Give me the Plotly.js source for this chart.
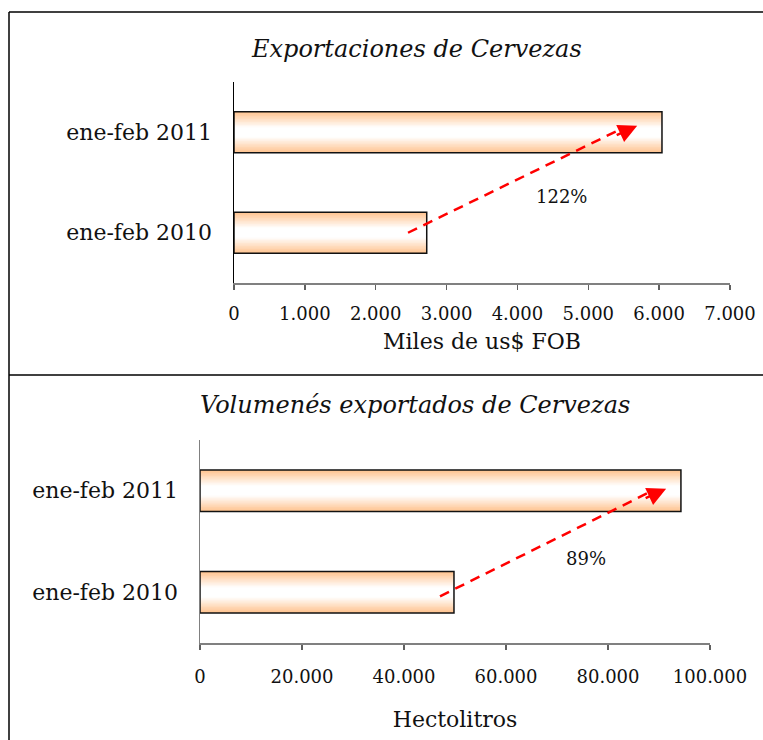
<!DOCTYPE html>
<html><head><meta charset="utf-8">
<script src="https://cdn.plot.ly/plotly-3.0.1.min.js"></script>
<style>html,body{margin:0;padding:0;background:#fff}#chart{width:763px;height:740px}</style>
</head><body><div id="chart"></div>
<script>
// ---- data ----
const categories = ["ene-feb 2010", "ene-feb 2011"];
const valuesFOB = [2720, 6040];          // Miles de us$ FOB
const valuesHl = [49800, 94300];         // Hectolitros
const growthFOB = "122%";
const growthHl = "89%";
const titleTop = "Exportaciones de Cervezas";
const titleBottom = "Volumenés exportados de Cervezas";
const xTitleTop = "Miles de us$ FOB";
const xTitleBottom = "Hectolitros";
const ticksTop = [0, 1000, 2000, 3000, 4000, 5000, 6000, 7000];
const ticksBottom = [0, 20000, 40000, 60000, 80000, 100000];
// arrow endpoints (data coords: x value, y category index)
const arrowTop = {x0: 2456, y0: 0.0, x1: 5690, y1: 1.065};
const arrowBottom = {x0: 47060, y0: -0.04, x1: 91400, y1: 1.02};
const labelTop = {x: 4620, y: 0.36};
const labelBottom = {x: 75700, y: 0.33};

const FONT = "DejaVu Serif, Liberation Serif, serif";
const edge = [255, 196, 145];
const N = 14;
const BARW = 0.41;

function layered(vals, xa, ya) {
  const traces = [];
  for (let i = 0; i < N; i++) {
    const t = i / (N - 1);
    const c = edge.map(v => Math.round(v + (255 - v) * Math.min(1, t * 1.25)));
    traces.push({
      type: 'bar', orientation: 'h', x: vals, y: categories,
      xaxis: xa, yaxis: ya, width: BARW * (1 - i / N),
      marker: {color: `rgb(${c[0]},${c[1]},${c[2]})`, line: {width: 0}},
      hoverinfo: 'skip', showlegend: false
    });
  }
  traces.push({
    type: 'bar', orientation: 'h', x: vals, y: categories,
    xaxis: xa, yaxis: ya, width: BARW,
    marker: {color: 'rgba(0,0,0,0)', line: {color: '#111', width: 1.5}},
    hoverinfo: 'skip', showlegend: false
  });
  return traces;
}

const data = [...layered(valuesFOB, 'x', 'y'), ...layered(valuesHl, 'x2', 'y2')];

const W = 763, H = 740;
const px = v => v / W, py = v => 1 - v / H;

function axisX(domain, ticks, range, title, anchor, lstand, tstand) {
  return {
    domain, range, tickvals: ticks, tickformat: ',.0f',
    showgrid: false, zeroline: false, showline: true, linecolor: '#808080', linewidth: 2,
    ticks: 'outside', ticklen: 5, tickcolor: '#606060', tickwidth: 1.5,
    ticklabelstandoff: lstand,
    tickfont: {family: FONT, size: 18, color: '#111'},
    title: {text: title, font: {family: FONT, size: 22, color: '#111'}, standoff: tstand},
    anchor, fixedrange: true
  };
}
function axisY(domain, anchor, lc) {
  return {
    domain, range: [-0.5, 1.5], type: 'category', categoryarray: categories,
    showgrid: false, zeroline: false, showline: true, linecolor: lc, linewidth: 1.5,
    ticks: '', ticklabelstandoff: 16,
    tickfont: {family: FONT, size: 22, color: '#111'},
    anchor, fixedrange: true
  };
}

const layout = {
  width: W, height: H, margin: {l: 0, r: 0, t: 0, b: 0},
  paper_bgcolor: '#fff', plot_bgcolor: 'rgba(0,0,0,0)',
  barmode: 'overlay', separators: ',.', showlegend: false,
  xaxis: axisX([px(234), px(730)], ticksTop, [0, 7000], xTitleTop, 'y', 8, 11),
  yaxis: axisY([py(283), py(82)], 'x', '#000'),
  xaxis2: axisX([px(200), px(710)], ticksBottom, [0, 100000], xTitleBottom, 'y2', 11, 26),
  yaxis2: axisY([py(643), py(440)], 'x2', '#808080'),
  shapes: [
    {type: 'line', xref: 'paper', yref: 'paper', x0: px(9), x1: 1.01, y0: py(12), y1: py(12), line: {color: '#000', width: 1.5}},
    {type: 'line', xref: 'paper', yref: 'paper', x0: px(9), x1: px(9), y0: py(12), y1: -0.01, line: {color: '#000', width: 1.5}},
    {type: 'line', xref: 'paper', yref: 'paper', x0: px(9), x1: 1.01, y0: py(375), y1: py(375), line: {color: '#000', width: 1.5}},
    {type: 'line', xref: 'x', yref: 'y', x0: arrowTop.x0, y0: arrowTop.y0, x1: arrowTop.x1 - 250, y1: arrowTop.y1 - 0.04,
      line: {color: '#ff0000', width: 2.5, dash: '10px,7px'}},
    {type: 'line', xref: 'x2', yref: 'y2', x0: arrowBottom.x0, y0: arrowBottom.y0, x1: arrowBottom.x1 - 3500, y1: arrowBottom.y1 - 0.04,
      line: {color: '#ff0000', width: 2.5, dash: '10px,7px'}}
  ],
  annotations: [
    {xref: 'paper', yref: 'paper', x: px(416), y: py(49), text: `<i>${titleTop}</i>`, showarrow: false,
      font: {family: FONT, size: 24, color: '#111'}, xanchor: 'center', yanchor: 'middle'},
    {xref: 'paper', yref: 'paper', x: px(415), y: py(405), text: `<i>${titleBottom}</i>`, showarrow: false,
      font: {family: FONT, size: 24, color: '#111'}, xanchor: 'center', yanchor: 'middle'},
    {xref: 'x', yref: 'y', x: labelTop.x, y: labelTop.y, text: growthFOB, showarrow: false,
      font: {family: FONT, size: 18, color: '#111'}},
    {xref: 'x2', yref: 'y2', x: labelBottom.x, y: labelBottom.y, text: growthHl, showarrow: false,
      font: {family: FONT, size: 18, color: '#111'}},
    {xref: 'x', yref: 'y', x: arrowTop.x1, y: arrowTop.y1, text: '', showarrow: true,
      ax: -22, ay: 10.2, arrowhead: 2, arrowsize: 1.5, arrowwidth: 2.5, arrowcolor: '#ff0000'},
    {xref: 'x2', yref: 'y2', x: arrowBottom.x1, y: arrowBottom.y1, text: '', showarrow: true,
      ax: -22, ay: 10.2, arrowhead: 2, arrowsize: 1.5, arrowwidth: 2.5, arrowcolor: '#ff0000'}
  ]
};

Plotly.newPlot('chart', data, layout, {displayModeBar: false, staticPlot: true});
</script>
</body></html>
